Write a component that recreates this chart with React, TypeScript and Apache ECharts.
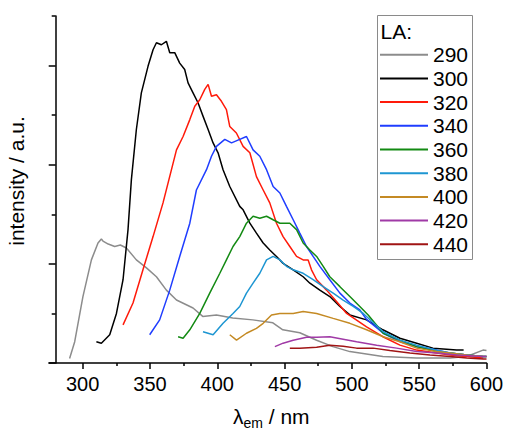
import { useEffect, useRef } from "react";
import * as echarts from "echarts";

const FONT = "'Liberation Sans', Arial, sans-serif";

const seriesNames = ["290", "300", "320", "340", "360", "380", "400", "420", "440"];
const seriesColors = ["#8c8c8c", "#000000", "#ff1a0a", "#1f3dff", "#138a13", "#1e96d2", "#c48a24", "#a03aa6", "#a01414"];

const xMajorTicks = [300, 350, 400, 450, 500, 550, 600];
const xMinorTicks = [325, 375, 425, 475, 525, 575];
const yMajorTicks = [0, 2, 4, 6];
const yMinorTicks = [1, 3, 5, 7];

const la290 = [[290.3,0.09],[294.1,0.43],[300.2,1.34],[306.5,2.08],[311.4,2.42],[313.9,2.5],[315.1,2.46],[319,2.4],[323.8,2.35],[328,2.38],[332.5,2.32],[339.9,2.08],[347.4,1.92],[354.8,1.74],[362.2,1.47],[369.7,1.27],[382.0,1.11],[389.2,0.94],[399.4,0.97],[411.5,0.91],[426.4,0.87],[441.3,0.81],[448.7,0.67],[461.3,0.61],[473.8,0.46],[485.9,0.33],[498.5,0.23],[523.0,0.13],[548.0,0.1],[572.9,0.1],[585.3,0.13],[597.4,0.26],[600,0.25]];
const la300 = [[310.2,0.43],[313.9,0.4],[320.1,0.57],[325.1,1.0],[330.0,1.68],[333.7,2.69],[336.2,3.7],[339.9,4.71],[343.6,5.45],[348.6,5.99],[352.3,6.32],[354.8,6.46],[358.5,6.42],[362.2,6.49],[364.7,6.26],[368.4,6.26],[372.1,6.05],[375.8,5.92],[378.3,5.65],[382.0,5.45],[385.7,5.25],[389.4,4.98],[393.2,4.71],[396.9,4.44],[400.6,4.24],[404.3,3.9],[409.3,3.56],[416.7,3.16],[419.2,3.09],[424.2,2.82],[429.1,2.62],[434.1,2.42],[439.0,2.28],[444.0,2.15],[448.9,2.01],[456.4,1.88],[463.8,1.74],[468.8,1.61],[476.2,1.47],[483.6,1.34],[491.1,1.14],[498.5,0.97],[510.9,0.87],[523.0,0.67],[535.7,0.5],[548.1,0.4],[560.2,0.3],[577.8,0.26],[583.0,0.26]];
const la320 = [[330.0,0.77],[337.4,1.21],[344.8,1.88],[352.3,2.55],[359.7,3.23],[369.7,4.3],[374.6,4.57],[379.6,4.91],[383.3,5.18],[387.0,5.31],[390.7,5.52],[393.2,5.62],[395.7,5.38],[399.4,5.41],[403.1,5.28],[406.8,5.11],[409.3,4.77],[414.2,4.64],[419.2,4.37],[424.2,4.24],[429.1,3.76],[434.1,3.49],[439.0,3.23],[444.0,2.82],[448.9,2.55],[453.9,2.35],[458.9,2.15],[463.8,2.08],[467.5,2.08],[470.0,1.88],[473.8,1.68],[481.2,1.47],[488.6,1.24],[496.1,1.0],[510.9,0.73],[523.0,0.53],[535.7,0.36],[548.1,0.26],[563.0,0.2],[572.9,0.16],[585.3,0.13],[597.6,0.1]];
const la340 = [[349.8,0.57],[357.2,0.87],[364.7,1.47],[372.1,2.15],[379.6,2.82],[384.5,3.49],[392.0,3.9],[395.7,4.17],[399.4,4.37],[405.6,4.51],[410.6,4.44],[416.7,4.51],[421.7,4.57],[426.6,4.3],[431.6,4.17],[436.6,3.9],[441.5,3.56],[446.5,3.43],[451.4,3.16],[456.4,2.89],[461.3,2.62],[466.3,2.35],[471.2,2.15],[476.2,1.95],[483.6,1.68],[491.1,1.41],[498.5,1.21],[505.9,1.07],[510.9,0.88],[523.3,0.6],[535.7,0.43],[548.1,0.33],[563.0,0.26],[572.9,0.2],[585.3,0.16],[597.6,0.13],[600,0.13]];
const la360 = [[370.9,0.53],[374.6,0.5],[379.6,0.67],[387.0,1.0],[394.4,1.41],[401.9,1.81],[406.8,2.08],[411.7,2.35],[416.7,2.55],[421.7,2.82],[426.6,2.96],[431.6,2.92],[436.6,2.96],[441.5,2.89],[446.5,2.82],[453.9,2.82],[458.9,2.69],[463.8,2.42],[468.8,2.28],[473.8,2.15],[478.7,1.95],[483.6,1.74],[491.1,1.54],[498.5,1.34],[505.9,1.14],[512.1,0.97],[523.3,0.6],[535.7,0.46],[548.1,0.33],[563.0,0.23],[572.9,0.2],[585.3,0.16],[597.6,0.13],[600,0.13]];
const la380 = [[389.4,0.63],[396.9,0.57],[404.3,0.8],[411.7,1.0],[416.7,1.14],[421.7,1.41],[426.6,1.61],[431.6,1.81],[436.6,2.08],[441.5,2.15],[446.5,2.08],[451.4,1.95],[456.4,1.88],[463.8,1.81],[471.2,1.68],[478.7,1.54],[486.1,1.41],[493.5,1.27],[501.0,1.14],[508.4,1.0],[523.3,0.63],[535.7,0.46],[548.1,0.36],[563.0,0.26],[572.9,0.2],[585.3,0.16],[597.6,0.13],[600,0.13]];
const la400 = [[409.3,0.57],[414.3,0.46],[421.7,0.6],[429.1,0.7],[434.1,0.8],[440.3,0.97],[446.5,1.0],[456.4,1.0],[463.8,1.04],[473.8,1.0],[486.1,0.9],[498.5,0.8],[510.9,0.67],[523.3,0.53],[535.7,0.43],[548.1,0.3],[563.0,0.23],[572.9,0.2],[585.3,0.16],[597.6,0.13],[600,0.13]];
const la420 = [[442.8,0.33],[448.9,0.4],[456.4,0.46],[466.3,0.52],[473.8,0.52],[483.6,0.53],[493.5,0.48],[503.5,0.43],[518.4,0.36],[533.2,0.3],[548.1,0.23],[563.0,0.2],[577.9,0.16],[597.6,0.13],[600,0.13]];
const la440 = [[453.9,0.3],[461.3,0.3],[473.8,0.32],[483.6,0.36],[493.5,0.34],[503.5,0.3],[515.8,0.3],[528.2,0.25],[543.1,0.2],[558.0,0.16],[572.9,0.13],[585.3,0.1],[597.6,0.08],[600,0.08]];

const seriesData = [la290, la300, la320, la340, la360, la380, la400, la420, la440];

const axisColor = "#000";

export default function App() {
  const ref = useRef<HTMLDivElement>(null);
  useEffect(() => {
    if (!ref.current) return;
    const chart = echarts.init(ref.current, null, { renderer: "svg" });
    const tickStyle = { color: axisColor, width: 1.5 };
    chart.setOption({
      animation: false,
      backgroundColor: "#fff",
      grid: { left: 49, right: 19.5, top: 16, bottom: 67, outerBoundsMode: "none", containLabel: false },
      xAxis: [
        {
          type: "value", min: 275, max: 600, position: "bottom",
          axisLine: { show: true, onZero: false, lineStyle: { color: axisColor, width: 1.5 } },
          axisTick: { show: true, customValues: xMajorTicks, length: 6, lineStyle: tickStyle },
          axisLabel: { show: true, customValues: xMajorTicks, fontSize: 20, color: "#000", fontFamily: FONT, margin: 11 },
          splitLine: { show: false },
        },
        {
          type: "value", min: 275, max: 600, position: "bottom",
          axisLine: { show: false, onZero: false },
          axisTick: { show: true, customValues: xMinorTicks, length: 3, lineStyle: tickStyle },
          axisLabel: { show: false },
          splitLine: { show: false },
        },
      ],
      yAxis: [
        {
          type: "value", min: 0, max: 7, position: "left", offset: -6.7,
          axisLine: { show: true, onZero: false, lineStyle: { color: axisColor, width: 1.5 } },
          axisTick: { show: true, customValues: yMajorTicks, length: 7, lineStyle: tickStyle },
          axisLabel: { show: false },
          splitLine: { show: false },
        },
        {
          type: "value", min: 0, max: 7, position: "left", offset: -6.7,
          axisLine: { show: false, onZero: false },
          axisTick: { show: true, customValues: yMinorTicks, length: 4, lineStyle: tickStyle },
          axisLabel: { show: false },
          splitLine: { show: false },
        },
      ],
      legend: {
        orient: "vertical",
        left: 380,
        top: 44.2,
        icon: "rect",
        itemWidth: 48,
        itemHeight: 2,
        itemGap: 2.7,
        padding: 0,
        data: seriesNames,
        textStyle: { fontSize: 21, lineHeight: 21, color: "#000", fontFamily: FONT },
      },
      graphic: [
        { type: "rect", shape: { x: 377.5, y: 15.5, width: 95, height: 244 }, style: { fill: "none", stroke: "#8a8a8a", lineWidth: 1 }, z: 10 },
        { type: "text", x: 380.5, y: 31, style: { text: "LA:", fontSize: 21, fontFamily: FONT, fill: "#000", verticalAlign: "middle", align: "left" }, z: 10 },
        { type: "text", x: 16, y: 181, rotation: Math.PI / 2, style: { text: "intensity / a.u.", fontSize: 21, fontFamily: FONT, fill: "#000", align: "center", verticalAlign: "middle" } },
        {
          type: "text", x: 233, y: 416,
          style: {
            text: "{l|λ}{s|em}{l| / nm}",
            fontFamily: FONT, fill: "#000", align: "left", verticalAlign: "middle",
            rich: {
              l: { fontSize: 21, fontFamily: FONT, lineHeight: 28, fill: "#000" },
              s: { fontSize: 14, fontFamily: FONT, lineHeight: 8, verticalAlign: "bottom", fill: "#000" },
            },
          },
        },
      ],
      series: seriesData.map((d, i) => ({
        name: seriesNames[i],
        type: "line",
        xAxisIndex: 0,
        yAxisIndex: 0,
        data: d,
        symbol: "none",
        showSymbol: false,
        lineStyle: { width: 1.5, color: seriesColors[i] },
        itemStyle: { color: seriesColors[i] },
        color: seriesColors[i],
        z: 2 + i,
      })),
    });
    return () => chart.dispose();
  }, []);
  return <div ref={ref} style={{ position: "fixed", left: 0, top: 0, width: 506, height: 430 }} />;
}
